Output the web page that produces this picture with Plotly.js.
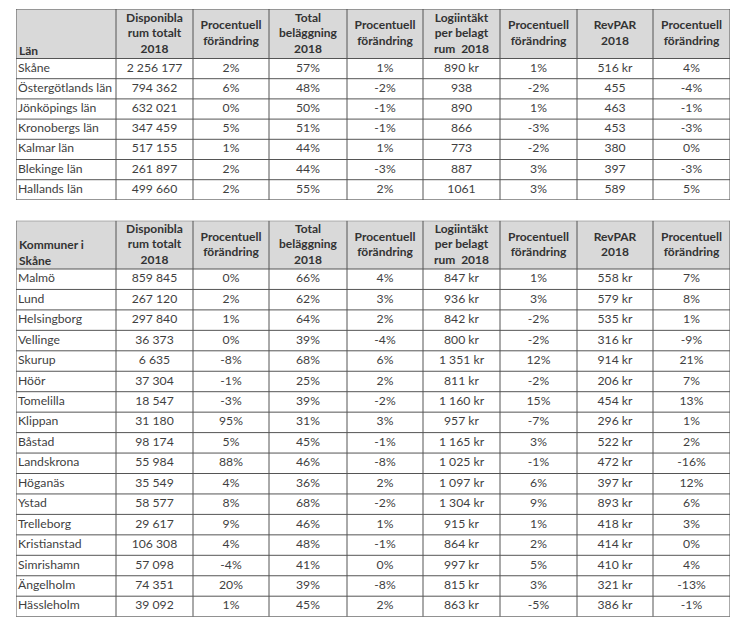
<!DOCTYPE html>
<html>
<head>
<meta charset="utf-8">
<script src="https://cdn.plot.ly/plotly-3.0.1.min.js"></script>
<style>html,body{margin:0;padding:0;background:#fff;}</style>
</head>
<body>
<div id="chart" style="width:753px;height:637px;"></div>
<script>
// ---- Header labels ----
var headLan = "Län";
var headKom = "Kommuner i<br>Skåne";
var headCols = ["Disponibla<br>rum totalt<br>2018", "Procentuell<br>förändring", "Total<br>beläggning<br>2018", "Procentuell<br>förändring", "Logiintäkt<br>per belagt<br>rum  2018", "Procentuell<br>förändring", "RevPAR<br>2018", "Procentuell<br>förändring"];

// ---- Table 1: Län ----
var lan = ["Skåne","Östergötlands län","Jönköpings län","Kronobergs län","Kalmar län","Blekinge län","Hallands län"];
var lanRum = ["2 256 177","794 362","632 021","347 459","517 155","261 897","499 660"];
var lanRumChg = ["2%","6%","0%","5%","1%","2%","2%"];
var lanBel = ["57%","48%","50%","51%","44%","44%","55%"];
var lanBelChg = ["1%","-2%","-1%","-1%","1%","-3%","2%"];
var lanLogi = ["890 kr","938","890","866","773","887","1061"];
var lanLogiChg = ["1%","-2%","1%","-3%","-2%","3%","3%"];
var lanRev = ["516 kr","455","463","453","380","397","589"];
var lanRevChg = ["4%","-4%","-1%","-3%","0%","-3%","5%"];

// ---- Table 2: Kommuner i Skåne ----
var kom = ["Malmö","Lund","Helsingborg","Vellinge","Skurup","Höör","Tomelilla","Klippan","Båstad","Landskrona","Höganäs","Ystad","Trelleborg","Kristianstad","Simrishamn","Ängelholm","Hässleholm"];
var komRum = ["859 845","267 120","297 840","36 373","6 635","37 304","18 547","31 180","98 174","55 984","35 549","58 577","29 617","106 308","57 098","74 351","39 092"];
var komRumChg = ["0%","2%","1%","0%","-8%","-1%","-3%","95%","5%","88%","4%","8%","9%","4%","-4%","20%","1%"];
var komBel = ["66%","62%","64%","39%","68%","25%","39%","31%","45%","46%","36%","68%","46%","48%","41%","39%","45%"];
var komBelChg = ["4%","3%","2%","-4%","6%","2%","-2%","3%","-1%","-8%","2%","-2%","1%","-1%","0%","-8%","2%"];
var komLogi = ["847 kr","936 kr","842 kr","800 kr","1 351 kr","811 kr","1 160 kr","957 kr","1 165 kr","1 025 kr","1 097 kr","1 304 kr","915 kr","864 kr","997 kr","815 kr","863 kr"];
var komLogiChg = ["1%","3%","-2%","-2%","12%","-2%","15%","-7%","3%","-1%","6%","9%","1%","2%","5%","3%","-5%"];
var komRev = ["558 kr","579 kr","535 kr","316 kr","914 kr","206 kr","454 kr","296 kr","522 kr","472 kr","397 kr","893 kr","418 kr","414 kr","410 kr","321 kr","386 kr"];
var komRevChg = ["7%","8%","1%","-9%","21%","7%","13%","1%","2%","-16%","12%","6%","3%","0%","4%","-13%","-1%"];

// ---- Layout / style settings ----
var W = 753, H = 637;
var FONT = "Lato, 'Open Sans', sans-serif";
var lineColor = "#555555";
var headFill = "#d9d9d9";
var colWidths = [100, 77, 76, 78, 76, 77, 77, 76, 77];
var bounds = [0];
colWidths.forEach(function(w){ bounds.push(bounds[bounds.length - 1] + w); });
var totalW = bounds[bounds.length - 1];

var tables = [
  {axis: "y", head: headLan, cols: [lan, lanRum, lanRumChg, lanBel, lanBelChg, lanLogi, lanLogiChg, lanRev, lanRevChg],
   top: 9, headH: 49.5, rowH: 20.2},
  {axis: "y2", head: headKom, cols: [kom, komRum, komRumChg, komBel, komBelChg, komLogi, komLogiChg, komRev, komRevChg],
   top: 220.7, headH: 48.3, rowH: 20.45}
];

var traces = [];
var shapes = [];
var layout = {
  width: W, height: H,
  margin: {l: 0, r: 0, t: 0, b: 0},
  paper_bgcolor: "#ffffff", plot_bgcolor: "rgba(0,0,0,0)",
  showlegend: false,
  hovermode: false,
  font: {family: FONT},
  xaxis: {domain: [16 / W, (16 + totalW) / W], range: [0, totalW], visible: false, fixedrange: true}
};

tables.forEach(function(t, ti) {
  var nRows = t.cols[0].length;
  var total = t.headH + nRows * t.rowH;
  var axName = ti === 0 ? "yaxis" : "yaxis2";
  layout[axName] = {
    domain: [1 - (t.top + total) / H, 1 - t.top / H],
    range: [total, 0], visible: false, fixedrange: true, anchor: "x"
  };
  var yc = [];
  for (var i = 0; i < nRows; i++) yc.push(t.headH + (i + 0.5) * t.rowH);

  // header background
  shapes.push({type: "rect", xref: "x", yref: t.axis, x0: 0, x1: totalW, y0: 0, y1: t.headH,
    fillcolor: headFill, line: {width: 0}, layer: "below"});
  // horizontal lines
  var hy = [0, t.headH];
  for (var r = 1; r <= nRows; r++) hy.push(t.headH + r * t.rowH);
  hy.forEach(function(y) {
    shapes.push({type: "line", xref: "x", yref: t.axis, x0: 0, x1: totalW, y0: y, y1: y,
      line: {color: lineColor, width: 1}});
  });
  // vertical lines
  bounds.forEach(function(x) {
    shapes.push({type: "line", xref: "x", yref: t.axis, x0: x, x1: x, y0: 0, y1: total,
      line: {color: lineColor, width: 1}});
  });

  // header texts
  traces.push({type: "scatter", mode: "text", xaxis: "x", yaxis: t.axis,
    x: [bounds[0] + 3], y: [t.headH - 1], text: ["<b>" + t.head + "</b>"],
    textposition: "top right", cliponaxis: false,
    textfont: {family: FONT, size: 12, color: "#333333"}});
  traces.push({type: "scatter", mode: "text", xaxis: "x", yaxis: t.axis,
    x: headCols.map(function(_, j){ return (bounds[j + 1] + bounds[j + 2]) / 2; }),
    y: headCols.map(function(){ return t.headH / 2 + 0.5; }),
    text: headCols.map(function(h){ return "<b>" + h + "</b>"; }),
    textposition: "middle center", cliponaxis: false,
    textfont: {family: FONT, size: 12, color: "#333333"}});

  // body texts
  t.cols.forEach(function(col, j) {
    var first = j === 0;
    traces.push({type: "scatter", mode: "text", xaxis: "x", yaxis: t.axis,
      x: col.map(function(){ return first ? bounds[0] + 2 : (bounds[j] + bounds[j + 1]) / 2; }),
      y: yc, text: col,
      textposition: first ? "middle right" : "middle center", cliponaxis: false,
      textfont: {family: FONT, size: 12.2, color: "#3f3f3f"}});
  });
});

layout.shapes = shapes;
Plotly.newPlot("chart", traces, layout, {displayModeBar: false, staticPlot: true});
</script>
</body>
</html>
